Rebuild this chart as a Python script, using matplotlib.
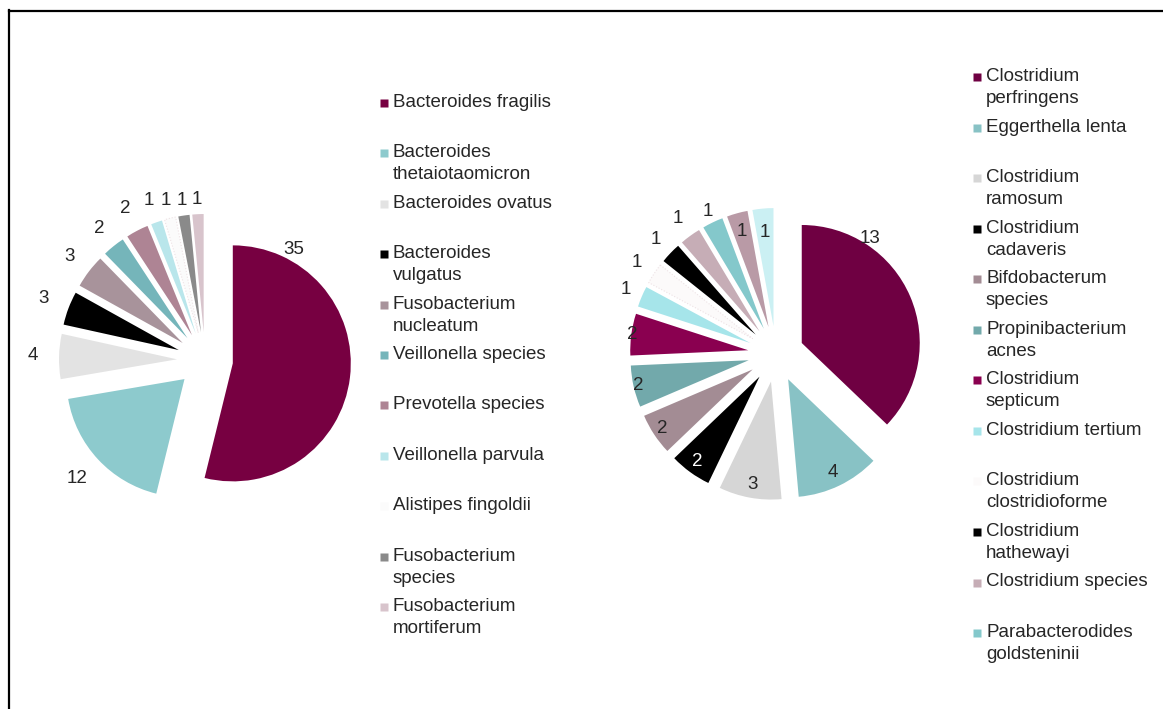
import math
import matplotlib.pyplot as plt
from matplotlib.lines import Line2D

plt.rcParams['font.family'] = ['Liberation Sans', 'DejaVu Sans']

W, H = 1163, 709

# left chart
left_labels = ['Bacteroides fragilis', 'Bacteroides\nthetaiotaomicron', 'Bacteroides ovatus',
               'Bacteroides\nvulgatus', 'Fusobacterium\nnucleatum', 'Veillonella species',
               'Prevotella species', 'Veillonella parvula', 'Alistipes fingoldii',
               'Fusobacterium\nspecies', 'Fusobacterium\nmortiferum']
left_values = [35, 12, 4, 3, 3, 2, 2, 1, 1, 1, 1]
left_colors = ['#770041', '#8dcacd', '#e3e3e3', '#000000', '#a8939b', '#75b5ba',
               '#ae8494', '#b9e6eb', '#fbfbfb', '#8a8a8a', '#d8c4cc']

# right chart (legend only lists the first 12 slices)
right_labels = ['Clostridium\nperfringens', 'Eggerthella lenta', 'Clostridium\nramosum',
                'Clostridium\ncadaveris', 'Bifdobacterum\nspecies', 'Propinibacterium\nacnes',
                'Clostridium\nsepticum', 'Clostridium tertium', 'Clostridium\nclostridioforme',
                'Clostridium\nhathewayi', 'Clostridium species', 'Parabacterodides\ngoldsteninii']
right_values = [13, 4, 3, 2, 2, 2, 2, 1, 1, 1, 1, 1, 1, 1]
right_colors = ['#6f0042', '#88c2c5', '#d6d6d6', '#000000', '#a38c94', '#72a9ab',
                '#8a0050', '#a6e5ea', '#fcfafa', '#000000', '#c6adb6', '#84c8cb',
                '#b99aa6', '#cbf0f3']

# label distance from pie centre, in radii
left_lab_dist = [1.2, 1.48, 1.46, 1.46, 1.45, 1.43, 1.45, 1.43, 1.39, 1.37, 1.36]
right_lab_dist = [1.26, 1.11, 1.12, 1.13, 1.15, 1.2, 1.23, 1.38, 1.41, 1.41, 1.42, 1.34, 1.08, 1.03]

R = 118
EXPL = 28
TXT = '#262626'
FS = 13.5

fig = plt.figure(figsize=(W / 100, H / 100), dpi=100)
ax = fig.add_axes([0, 0, 1, 1])


def draw_pie(values, colors, cx, cy, lab_dist):
    wedges, _ = ax.pie(values, colors=colors, radius=R, center=(cx, H - cy),
                       explode=[EXPL] * len(values), startangle=90, counterclock=False,
                       wedgeprops=dict(linewidth=0))
    for i, (w, c, v) in enumerate(zip(wedges, colors, values)):
        if c in ('#fbfbfb', '#fcfafa'):
            w.set_edgecolor('#eee2e5')
            w.set_linewidth(0.8)
            w.set_linestyle(':')
        mid = (w.theta1 + w.theta2) / 2
        if i == 0:
            mid = 51  # excel puts the big one up on the rim
        dist = lab_dist[i] * R
        tx = cx + dist * math.cos(math.radians(mid))
        ty = H - cy + dist * math.sin(math.radians(mid))
        col = 'white' if c == '#000000' and lab_dist[i] < 1.3 else TXT
        ax.text(tx, ty, str(v), ha='center', va='center', fontsize=FS, color=col)


def draw_legend(labels, colors, mx, tx, y0, step):
    for i, lab in enumerate(labels):
        yb = y0 + step * i
        ax.plot(mx, H - (yb - 4), 's', ms=6, color=colors[i], mec='none')
        for k, line in enumerate(lab.split('\n')):
            ax.text(tx, H - (yb + 22 * k), line, ha='left', va='baseline',
                    fontsize=FS, color=TXT)


draw_pie(left_values, left_colors, 205, 360, left_lab_dist)
draw_pie(right_values, right_colors, 776, 354, right_lab_dist)
draw_legend(left_labels, left_colors, 383.5, 393, 107, 50.4)
draw_legend(right_labels, right_colors, 976.5, 986, 81, 50.55)

ax.set_xlim(0, W)
ax.set_ylim(0, H)
ax.set_aspect('auto')
ax.axis('off')

# frame edges of the original screenshot
fig.add_artist(Line2D([8.5 / W, 8.5 / W], [0, 1 - 10 / H], color='black', lw=1.6))
fig.add_artist(Line2D([8.5 / W, 1], [1 - 10.5 / H, 1 - 10.5 / H], color='black', lw=1.6))

fig.savefig('out.png', dpi=100, facecolor='white')
